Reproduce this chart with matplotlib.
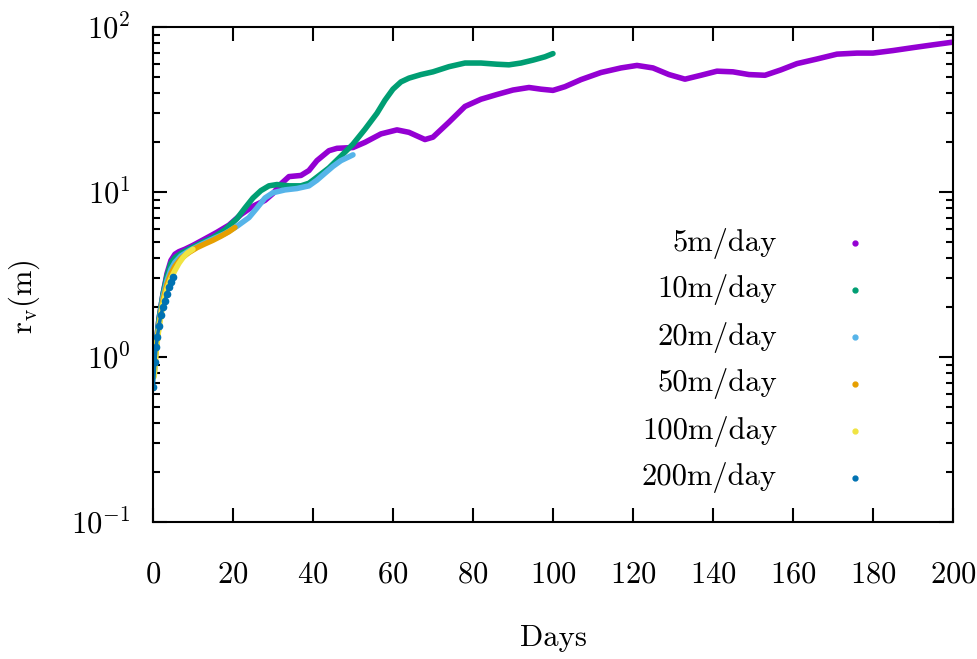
import matplotlib
matplotlib.use('Agg')
import matplotlib.pyplot as plt
from matplotlib.ticker import LogLocator, MultipleLocator, NullLocator

plt.rcParams['font.family'] = 'serif'
plt.rcParams['font.serif'] = ['cmr10']
plt.rcParams['mathtext.fontset'] = 'cm'
plt.rcParams['axes.formatter.use_mathtext'] = True
plt.rcParams['font.size'] = 22

# dados
dias_5 = [0.3, 0.8, 1.5, 2.5, 3.5, 4.5, 5.5, 6.5, 8, 10, 13, 16, 19, 22, 25, 28, 30, 32, 34, 37,
          39, 41, 44, 46, 50, 53, 57, 61, 64, 68, 70, 74, 78, 82, 86, 90, 94, 97, 100, 103, 107,
          112, 117, 121, 125, 129, 133, 137, 141, 145, 149, 153, 157, 161, 166, 171, 176, 180,
          185, 190, 195, 200]
rv_5 = [0.85, 1.2, 1.7, 2.4, 3.2, 3.85, 4.2, 4.35, 4.5, 4.75, 5.2, 5.7, 6.3, 7.3, 8.2, 8.9, 9.8,
        11.2, 12.4, 12.6, 13.5, 15.5, 17.8, 18.4, 18.6, 20.0, 22.5, 23.8, 23.0, 20.8, 21.5, 26.5,
        33.0, 36.5, 39.0, 41.5, 43.0, 42.0, 41.3, 43.5, 48.0, 53.0, 56.5, 58.5, 56.5, 51.5, 48.3,
        51.0, 54.0, 53.5, 51.5, 51.0, 55.0, 60.0, 64.0, 68.5, 69.5, 69.5, 72.0, 75.0, 78.0, 81.0]

dias_10 = [0.3, 0.8, 1.5, 2.5, 3.5, 4.5, 5.5, 7, 9, 12, 15, 18, 21, 23, 25, 27, 29, 31, 34, 37,
           39, 41, 44, 47, 50, 53, 56, 58, 60, 62, 64, 67, 70, 74, 78, 82, 86, 89, 92, 95, 98, 100]
rv_10 = [0.85, 1.2, 1.7, 2.4, 3.1, 3.7, 4.0, 4.25, 4.5, 4.9, 5.3, 5.9, 6.9, 8.0, 9.2, 10.2, 10.9,
         11.1, 10.9, 10.9, 11.3, 12.3, 14.0, 16.5, 19.5, 24.0, 30.0, 36.0, 42.0, 46.5, 49.0, 51.5,
         53.5, 57.5, 60.5, 60.5, 59.5, 59.0, 60.5, 63.0, 66.0, 69.0]

dias_20 = [0.3, 0.8, 1.5, 2.5, 3.5, 4.5, 5.5, 7, 9, 12, 15, 18, 21, 24, 26, 28, 30, 33, 36, 39,
           41, 43, 45, 47, 50]
rv_20 = [0.8, 1.15, 1.6, 2.3, 2.9, 3.4, 3.75, 4.1, 4.4, 4.8, 5.2, 5.6, 6.2, 7.0, 8.0, 9.2, 9.9,
         10.3, 10.5, 10.9, 11.8, 13.0, 14.3, 15.5, 16.8]

dias_50 = [0.3, 0.8, 1.5, 2.5, 3.5, 4.5, 5.5, 7, 9, 11, 13, 15, 17, 19, 20.5]
rv_50 = [0.78, 1.1, 1.55, 2.2, 2.75, 3.2, 3.55, 3.95, 4.3, 4.6, 4.85, 5.1, 5.4, 5.75, 6.1]

dias_100 = [0.3, 0.8, 1.5, 2.5, 3.5, 4.5, 5.5, 6.5, 7.5, 8.5, 10]
rv_100 = [0.76, 1.1, 1.5, 2.1, 2.6, 3.0, 3.35, 3.7, 4.0, 4.25, 4.5]

dias_200 = [0.1, 0.5, 0.8, 1.1, 1.5, 2, 2.5, 3, 3.5, 4, 4.5, 5]
rv_200 = [0.66, 0.93, 1.15, 1.32, 1.55, 1.8, 2.0, 2.2, 2.4, 2.65, 2.85, 3.05]

series = [
    ('5m/day', dias_5, rv_5, '#9400d3'),
    ('10m/day', dias_10, rv_10, '#009e73'),
    ('20m/day', dias_20, rv_20, '#56b4e9'),
    ('50m/day', dias_50, rv_50, '#e69f00'),
    ('100m/day', dias_100, rv_100, '#f0e442'),
    ('200m/day', dias_200, rv_200, '#0072b2'),
]

fig = plt.figure(figsize=(9.78, 6.59), dpi=100)
ax = fig.add_axes([0.1564, 0.2079, 0.818, 0.7511])

for nome, d, r, cor in series:
    if nome == '200m/day':
        ax.plot(d, r, color=cor, lw=2.5, marker='o', ms=4.5, solid_capstyle='round')
    else:
        ax.plot(d, r, color=cor, lw=4, solid_capstyle='round', solid_joinstyle='round')

# legenda no estilo gnuplot
ys_leg = [0.5636, 0.4687, 0.3737, 0.2788, 0.1838, 0.0889]
for (nome, d, r, cor), yl in zip(series, ys_leg):
    ax.text(0.78, yl, nome, transform=ax.transAxes, ha='right', va='center')
    ax.plot([0.8775], [yl], 'o', color=cor, ms=3.5, transform=ax.transAxes, clip_on=False)

ax.set_yscale('log')
ax.set_xlim(0, 200)
ax.set_ylim(0.1, 100)
ax.xaxis.set_major_locator(MultipleLocator(20))
ax.xaxis.set_minor_locator(NullLocator())
ax.yaxis.set_major_locator(LogLocator(base=10, numticks=10))
ax.yaxis.set_minor_locator(LogLocator(base=10, subs=range(2, 10), numticks=10))

ax.tick_params(which='both', direction='in', top=True, right=True, width=1.5)
ax.tick_params(which='major', length=10)
ax.tick_params(which='minor', length=5)
ax.tick_params(axis='x', pad=28)
ax.tick_params(axis='y', pad=16)
for s in ax.spines.values():
    s.set_linewidth(1.5)

ax.set_xlabel('Days')
ax.set_ylabel(r'$\mathrm{r_v(m)}$')
ax.xaxis.set_label_coords(0.5, -0.208)
ax.yaxis.set_label_coords(-0.139, 0.455)

fig.savefig('out.png', dpi=100)
